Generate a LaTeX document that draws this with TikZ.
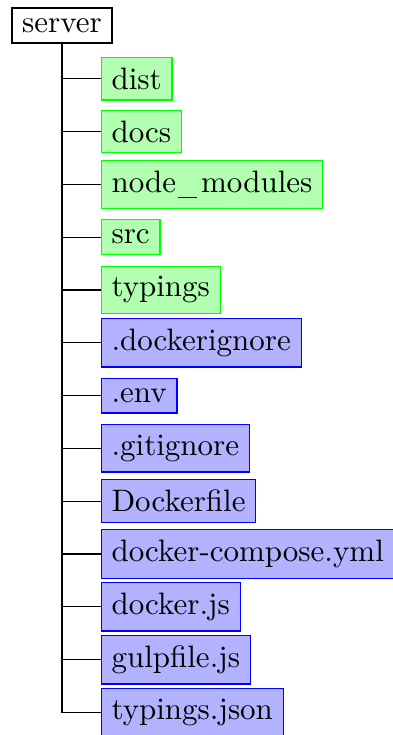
\documentclass[tikz,border=0pt]{standalone}
\newcommand{\myunder}{\kern0.55pt\rule[-2pt]{6.1pt}{0.45pt}\kern1.4pt}
\begin{document}
\begin{tikzpicture}[x=0.32258pt,y=-0.32258pt,
  rootbox/.style={draw=black,fill=white,inner sep=0.3333em},
  dirbox/.style={draw=green,fill=green!30,anchor=west,inner sep=0.3333em},
  filebox/.style={draw=blue,fill=blue!30,anchor=west,inner sep=0.3333em},
  conn/.style={draw=black}]
\useasboundingbox (0,0) rectangle (392,735);
\node[rootbox] (root) at (62,25.5) {server};
\foreach \i/\t/\s in {1/dist/dirbox,2/docs/dirbox,3/node\myunder modules/dirbox,4/src/dirbox,5/typings/dirbox,6/.dockerignore/filebox,7/.env/filebox,8/.gitignore/filebox,9/Dockerfile/filebox,10/docker-compose.yml/filebox,11/docker.js/filebox,12/gulpfile.js/filebox,13/typings.json/filebox}{
  \node[\s] (c\i) at (100.6,{26+52.8*\i}) {\t};
  \draw[conn] (root.south) |- (c\i.west);
}
\end{tikzpicture}
\end{document}
